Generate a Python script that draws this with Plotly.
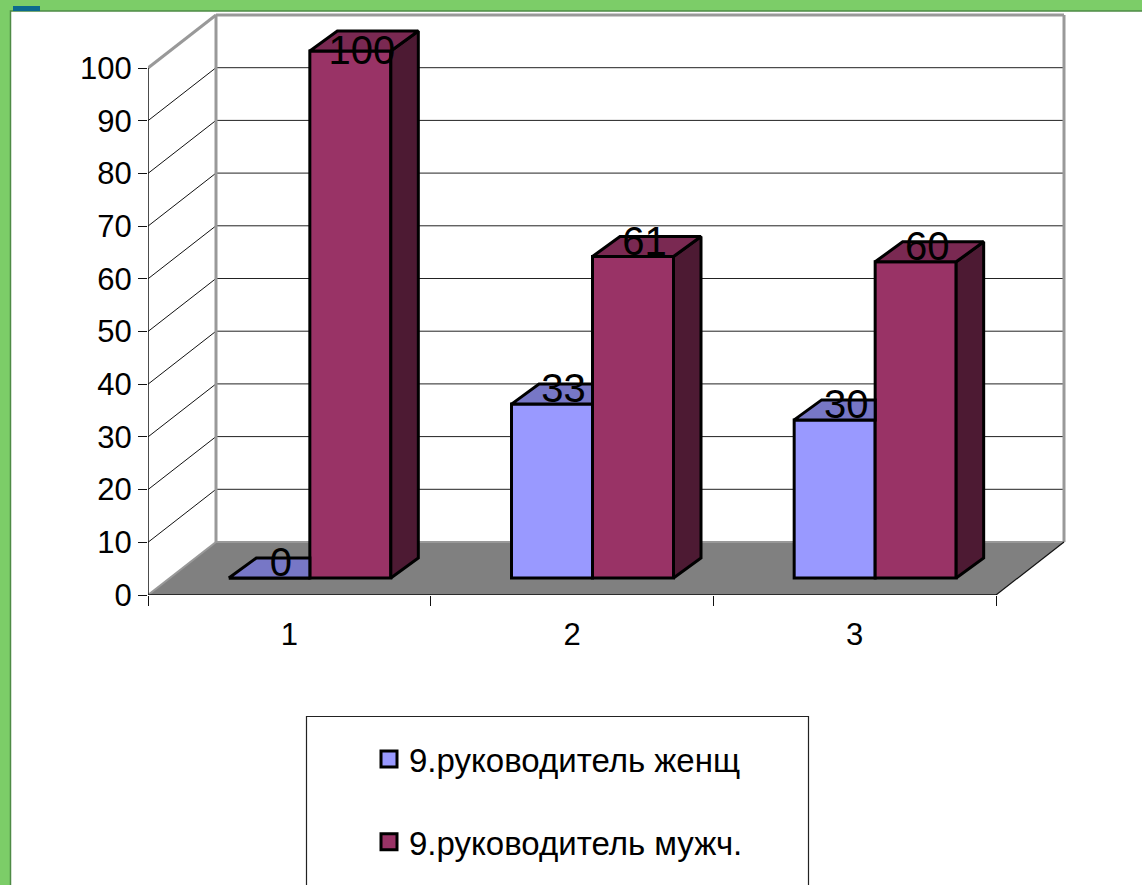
import plotly.graph_objects as go

categories = [1, 2, 3]
women = [0, 33, 30]
men = [100, 61, 60]
y_ticks = [0, 10, 20, 30, 40, 50, 60, 70, 80, 90, 100]
name_w = "9.руководитель женщ"
name_m = "9.руководитель мужч."

W, H = 1142, 885
L, R, T, B = 148, 1066, 10, 595      # plot area in pixels
PX_X = (996 - 148) / 3               # pixels per category
PX_Y = (595 - 68) / 100              # pixels per value unit
px = lambda n: n / PX_X
py = lambda n: n / PX_Y
X0 = 0.5
XEND = 3.5
DX, DY = px(68), py(53)              # depth of the room
LIFT = py(17)                        # bars stand part way into the floor
BW = px(81)
BDX, BDY = px(27.5), py(20)          # depth of a bar
F_OFF = px(-60.5)
M_OFF = F_OFF + BW
LAB_DX, LAB_DY = px(11.5), py(12)
YMAX = 100

FONT = "Liberation Sans"
C_F, C_F_TOP = "#9999FF", "#7777C6"
C_M, C_M_TOP, C_M_SIDE = "#993366", "#7A2952", "#4D1A33"
GREEN = "#7CCD68"

xpaper = lambda p: (p - L) / (R - L)
ypaper = lambda p: (B - p) / (B - T)

shapes = []
def rect(x0, y0, x1, y1, fill, line=None, w=0):
    shapes.append(dict(type="rect", xref="paper", yref="paper",
                       x0=xpaper(x0), x1=xpaper(x1), y0=ypaper(y0), y1=ypaper(y1),
                       fillcolor=fill, line=dict(color=line or fill, width=w), layer="below"))
def seg(x0, y0, x1, y1, color, w):
    shapes.append(dict(type="line", xref="x", yref="y", x0=x0, x1=x1, y0=y0, y1=y1,
                       line=dict(color=color, width=w), layer="below"))

# frame
rect(10.5, 11, W + 5, H + 5, "white", "#4E8A45", 1.5)
rect(13, 6, 40, 11, "#0B6A8E")
# legend box
rect(306.5, 716.5, 808.5, H + 5, "white", "#222222", 1.2)
# floor
shapes.append(dict(type="path", xref="x", yref="y", layer="below", fillcolor="#808080",
                   line=dict(width=0),
                   path=f"M{X0},0 L{XEND},0 L{XEND+DX},{DY} L{X0+DX},{DY} Z"))
# grid lines
for v in y_ticks[1:]:
    seg(X0, v, X0 + DX, v + DY, "#111111", 1)
    seg(X0 + DX, v + DY, XEND + DX, v + DY, "#222222", 1)
# room edges
GR = "#999999"
seg(X0 + DX, DY, X0 + DX, YMAX + DY, GR, 3)
seg(X0 + DX, YMAX + DY, XEND + DX, YMAX + DY, GR, 3)
seg(XEND + DX, DY, XEND + DX, YMAX + DY, GR, 3)
seg(X0, YMAX, X0 + DX, YMAX + DY, GR, 3)
seg(X0 + DX, DY, XEND + DX, DY, GR, 2)
seg(X0, 0, X0 + DX, DY, GR, 2)
seg(XEND, 0, XEND + DX, DY, "#111111", 1.2)
seg(X0, 0, XEND, 0, "#111111", 1.5)
seg(X0, 0, X0, YMAX, "#111111", 1.5)

fig = go.Figure()
bar_line = dict(color="black", width=3)
fig.add_bar(x=categories, y=women, base=LIFT, width=BW, offset=F_OFF,
            marker=dict(color=C_F, line=bar_line), showlegend=False, name=name_w)
fig.add_bar(x=categories, y=men, base=LIFT, width=BW, offset=M_OFF,
            marker=dict(color=C_M, line=bar_line), showlegend=False, name=name_m)

def poly(xs, ys, fill):
    fig.add_scatter(x=xs + xs[:1], y=ys + ys[:1], mode="lines", fill="toself", fillcolor=fill,
                    line=dict(color="black", width=3), showlegend=False, hoverinfo="skip")

for c, v in zip(categories, women):
    x0 = c + F_OFF
    x1 = c + M_OFF
    t = v + LIFT
    poly([x0, x1, x1, x0 + BDX], [t, t, t + BDY, t + BDY], C_F_TOP)
for c, v in zip(categories, men):
    x0 = c + M_OFF
    x1 = x0 + BW
    t = v + LIFT
    poly([x1, x1 + BDX, x1 + BDX, x1], [LIFT, LIFT + BDY, t + BDY, t], C_M_SIDE)
    poly([x0, x1, x1 + BDX, x0 + BDX], [t, t, t + BDY, t + BDY], C_M_TOP)

for off, vals in ((F_OFF, women), (M_OFF, men)):
    fig.add_scatter(x=[c + off + BW / 2 + LAB_DX for c in categories],
                    y=[min(v + LIFT + LAB_DY, YMAX + LIFT - py(3)) for v in vals],
                    text=[str(v) for v in vals], mode="text", textposition="middle center",
                    textfont=dict(family=FONT, size=40, color="black"),
                    showlegend=False, hoverinfo="skip", cliponaxis=False)

# legend entries
for nm, col, grp in ((name_w, C_F, "w"), (name_m, C_M, "m")):
    fig.add_scatter(x=[None], y=[None], mode="markers", name=nm, legendgroup=grp,
                    marker=dict(symbol="square", size=16, color=col,
                                line=dict(color="black", width=3)))

fig.update_layout(
    width=W, height=H, autosize=False,
    margin=dict(l=L, r=W - R, t=T, b=H - B, pad=0),
    paper_bgcolor=GREEN, plot_bgcolor="rgba(0,0,0,0)",
    barmode="overlay", shapes=shapes,
    font=dict(family=FONT, size=31, color="black"),
    xaxis=dict(range=[X0, X0 + (R - L) / PX_X], tickvals=categories, ticks="", showgrid=False,
               zeroline=False, showline=False, ticklabelstandoff=18,
               minor=dict(tick0=0.5, dtick=1, ticks="outside", ticklen=10, tickcolor="#111111",
                          tickwidth=1, showgrid=False)),
    yaxis=dict(range=[0, (B - T) / PX_Y], tickvals=y_ticks, ticks="outside", ticklen=9,
               tickcolor="#111111", tickwidth=1, showgrid=False, zeroline=False, showline=False),
    legend=dict(x=xpaper(369), y=ypaper(731), xanchor="left", yanchor="top",
                bgcolor="rgba(0,0,0,0)", borderwidth=0, tracegroupgap=37,
                font=dict(family=FONT, size=33), itemwidth=30),
)
fig.write_html("out.html", config={"displayModeBar": False},
               post_script="document.body.style.margin='0';document.documentElement.style.overflow='hidden';")
